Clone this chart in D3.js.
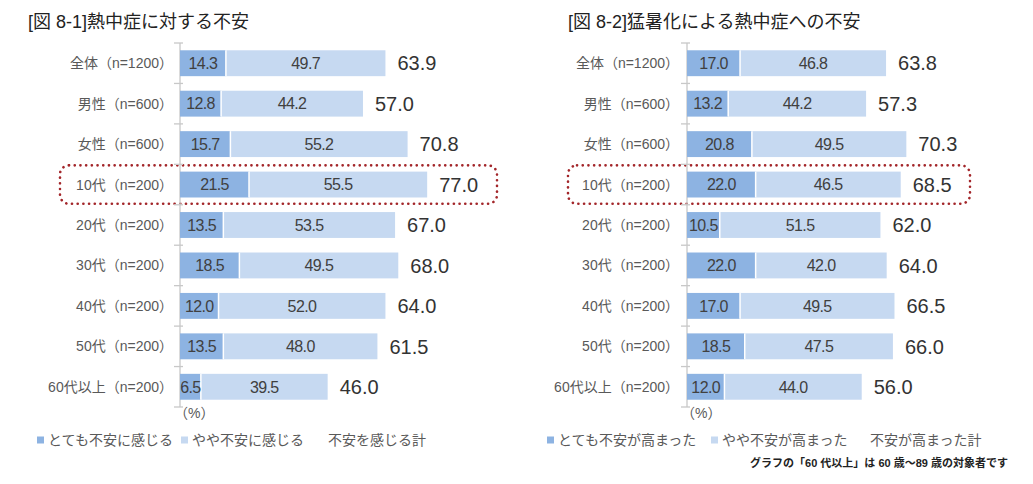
<!DOCTYPE html>
<html>
<head>
<meta charset="utf-8">
<script src="https://cdn.jsdelivr.net/npm/d3@7"></script>
<style>
  html, body { margin: 0; padding: 0; background: #fff; }
  svg { display: block; font-family: "Liberation Sans", Arial, "Noto Sans CJK JP", sans-serif; }
</style>
</head>
<body>
<svg id="chart" width="1033" height="484"></svg>
<script>
// categories shared by both panels
var categories = ["全体（n=1200）", "男性（n=600）", "女性（n=600）", "10代（n=200）", "20代（n=200）",
  "30代（n=200）", "40代（n=200）", "50代（n=200）", "60代以上（n=200）"];

// [図 8-1] 熱中症に対する不安
var anxVery = [14.3, 12.8, 15.7, 21.5, 13.5, 18.5, 12.0, 13.5, 6.5];
var anxSome = [49.7, 44.2, 55.2, 55.5, 53.5, 49.5, 52.0, 48.0, 39.5];
var anxTotal = [63.9, 57.0, 70.8, 77.0, 67.0, 68.0, 64.0, 61.5, 46.0];
var anxLegend = ["とても不安に感じる", "やや不安に感じる", "不安を感じる計"];

// [図 8-2] 猛暑化による熱中症への不安
var heatVery = [17.0, 13.2, 20.8, 22.0, 10.5, 22.0, 17.0, 18.5, 12.0];
var heatSome = [46.8, 44.2, 49.5, 46.5, 51.5, 42.0, 49.5, 47.5, 44.0];
var heatTotal = [63.8, 57.3, 70.3, 68.5, 62.0, 64.0, 66.5, 66.0, 56.0];
var heatLegend = ["とても不安が高まった", "やや不安が高まった", "不安が高まった計"];

var highlightRow = "10代（n=200）";

(function () {
  "use strict";
  var svg = d3.select("#chart");
  var C = { dark: "#8db3e2", light: "#c6d9f1", label: "#595959", ink: "#404040", total: "#333333",
    axis: "#c8c8c8", box: "#a3262a" };
  var top = 43, bottom = 407;

  function panel(o) {
    var y = d3.scaleBand().domain(categories).range([top, bottom]).paddingInner(0.36).paddingOuter(0.18);
    var step = (bottom - top) / categories.length;
    var x = d3.scaleLinear().domain([0, 100]).range([o.axisX, o.axisX + o.pxPer * 100]);
    var g = svg.append("g");

    g.append("text").attr("x", o.titleX).attr("y", 28)
      .style("font-size", "18px").attr("fill", "#222").text(o.title);

    // highlight box
    var hy = top + categories.indexOf(highlightRow) * step;
    g.append("rect").attr("x", o.boxX0).attr("y", hy + 1)
      .attr("width", o.boxX1 - o.boxX0).attr("height", step - 2).attr("rx", 9)
      .attr("fill", "none").attr("stroke", C.box).attr("stroke-width", 2.6)
      .attr("stroke-dasharray", "0.1 5.6").attr("stroke-linecap", "round");

    // axis line + ticks at band boundaries
    g.append("line").attr("x1", o.axisX).attr("x2", o.axisX).attr("y1", top).attr("y2", bottom)
      .attr("stroke", C.axis).attr("stroke-width", 1.3);
    d3.range(categories.length + 1).forEach(function (i) {
      var ty = top + i * step;
      g.append("line").attr("x1", o.axisX - 6).attr("x2", o.axisX + 3).attr("y1", ty).attr("y2", ty)
        .attr("stroke", C.axis).attr("stroke-width", 1.3);
    });

    categories.forEach(function (c, i) {
      var y0 = y(c), bh = y.bandwidth(), yc = y0 + bh / 2;
      var xa = x(0), xb = x(o.very[i]), xc = x(o.very[i] + o.some[i]);
      g.append("text").attr("x", o.labelRight).attr("y", yc).attr("dy", "0.36em")
        .attr("text-anchor", "end").style("font-size", "14px").attr("fill", C.label).text(c);
      g.append("rect").attr("x", xa).attr("y", y0).attr("width", xb - xa).attr("height", bh).attr("fill", C.dark);
      g.append("rect").attr("x", xb).attr("y", y0).attr("width", xc - xb).attr("height", bh).attr("fill", C.light);
      g.append("line").attr("x1", xb).attr("x2", xb).attr("y1", y0).attr("y2", y0 + bh)
        .attr("stroke", "#fff").attr("stroke-width", 1.5);
      g.append("text").attr("x", (xa + xb) / 2).attr("y", yc).attr("dy", "0.36em")
        .attr("text-anchor", "middle").style("font-size", "16px").style("letter-spacing", "-0.6px")
        .attr("fill", C.ink).text(o.very[i].toFixed(1));
      g.append("text").attr("x", (xb + xc) / 2).attr("y", yc).attr("dy", "0.36em")
        .attr("text-anchor", "middle").style("font-size", "16px").style("letter-spacing", "-0.6px")
        .attr("fill", C.ink).text(o.some[i].toFixed(1));
      g.append("text").attr("x", xc + 12).attr("y", yc).attr("dy", "0.36em")
        .style("font-size", "20px").attr("fill", C.total).text(o.total[i].toFixed(1));
    });

    g.append("text").attr("x", o.axisX - 6).attr("y", 413).attr("dy", "0.36em")
      .style("font-size", "14px").attr("fill", C.label).text("（%）");

    // legend
    var lg = g.append("g").attr("transform", "translate(0,440)");
    var sw = [C.dark, C.light, null];
    o.legendX.forEach(function (lx, i) {
      if (sw[i]) lg.append("rect").attr("x", lx).attr("y", -3.5).attr("width", 7).attr("height", 7).attr("fill", sw[i]);
      lg.append("text").attr("x", lx + (sw[i] ? 11 : 0)).attr("y", 0).attr("dy", "0.36em")
        .style("font-size", "14px").attr("fill", C.label).text(o.legend[i]);
    });
  }

  panel({ title: "[図 8-1]熱中症に対する不安", titleX: 28, labelRight: 173, axisX: 180, pxPer: 3.21,
    very: anxVery, some: anxSome, total: anxTotal, legend: anxLegend,
    legendX: [37, 181, 328], boxX0: 60, boxX1: 497 });
  panel({ title: "[図 8-2]猛暑化による熱中症への不安", titleX: 568, labelRight: 679, axisX: 687, pxPer: 3.12,
    very: heatVery, some: heatSome, total: heatTotal, legend: heatLegend,
    legendX: [547, 711, 870], boxX0: 568, boxX1: 970 });

  svg.append("text").attr("x", 1008).attr("y", 463).attr("dy", "0.36em").attr("text-anchor", "end")
    .style("font-size", "11px").style("font-weight", "bold").attr("fill", "#222")
    .text("グラフの「60 代以上」は 60 歳～89 歳の対象者です");
})();
</script>
</body>
</html>
